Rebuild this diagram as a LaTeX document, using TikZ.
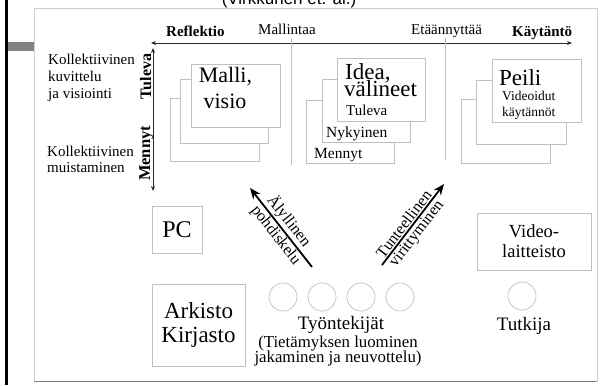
\documentclass[tikz,border=0pt]{standalone}
\usepackage{fontspec}
\setmainfont{Liberation Serif}
\newfontfamily\titlefont{Liberation Sans}
\usetikzlibrary{arrows.meta}
\definecolor{boxgray}{RGB}{192,192,192}
\definecolor{framegray}{RGB}{205,205,205}
\definecolor{bargray}{RGB}{130,130,130}
\definecolor{axisgray}{RGB}{40,40,40}
\newcommand{\fs}[1]{\fontsize{#1}{#1}\selectfont}
\begin{document}
\begin{tikzpicture}[x=1pt,y=-1pt,
  stackbox/.style={draw=boxgray, line width=0.7pt, fill=white, inner sep=0pt, anchor=north west},
  plainbox/.style={draw=boxgray, line width=0.7pt, fill=white, inner sep=0pt, align=center},
  person/.style={draw=boxgray, line width=0.7pt, circle, minimum size=28pt, inner sep=0pt},
  txt/.style={inner sep=0pt, anchor=base west},
  ctxt/.style={inner sep=0pt, anchor=base},
  axis/.style={draw=axisgray, line width=0.8pt, {Stealth[length=5pt,width=4pt]}-{Stealth[length=5pt,width=4pt]}},
  sep/.style={draw=boxgray, line width=0.6pt},
  bigarrow/.style={draw=black, line width=1.8pt, -{Stealth[length=11pt,width=9pt]}},
  arrowlbl/.style={sloped, inner sep=1.2pt, font=\fs{16}}
]
\useasboundingbox (0,0) rectangle (612,385);
\fill[white] (0,0) rectangle (612,385);

% title (cut at top)
\node[ctxt, font=\titlefont\fs{17}] (title) at (289,5) {(Virkkunen et. al.)};

% left decoration
\fill[black] (4.8,0) rectangle (7.6,385);
\fill[bargray] (7.6,42) rectangle (34,51);

% frame
\draw[framegray, line width=0.8pt] (34,381) -- (34,8) -- (597,8) -- (597,381);
\draw[gray, line width=0.8pt] (34,381) -- (597,381);

% axes
\coordinate (axL) at (151,43);
\coordinate (axR) at (572,43);
\coordinate (axT) at (153,48);
\coordinate (axB) at (153,191);
\draw[axis] (axL) -- (axR);
\draw[axis] (axT) -- (axB);

% separators
\coordinate (s1t) at (291,38); \coordinate (s1b) at (291,165);
\coordinate (s2t) at (445,38); \coordinate (s2b) at (445,160);
\draw[sep] (s1t) -- (s1b);
\draw[sep] (s2t) -- (s2b);

% axis labels
\node[txt, font=\bfseries\fs{15}] (reflektio) at (166,37) {Reflektio};
\node[txt, font=\fs{15}] (mallintaa) at (258,35) {Mallintaa};
\node[txt, font=\fs{15}] (etaann) at (411,35) {Etäännyttää};
\node[txt, font=\bfseries\fs{15}] (kaytanto) at (512,37) {Käytäntö};
\node[ctxt, rotate=90, font=\bfseries\fs{16}] (tuleva) at (151,76.5) {Tuleva};
\node[ctxt, rotate=90, font=\bfseries\fs{16.5}] (mennyt) at (150,153.5) {Mennyt};

% left texts
\node[txt, font=\fs{15}] (k1) at (48,65) {Kollektiivinen};
\node[txt, font=\fs{15}] (k2) at (48,82) {kuvittelu};
\node[txt, font=\fs{15}] (k3) at (48,99) {ja visiointi};
\node[txt, font=\fs{15}] (m1) at (47,156) {Kollektiivinen};
\node[txt, font=\fs{15}] (m2) at (47,172) {muistaminen};

% Malli stack
\node[stackbox, minimum width=89pt, minimum height=63pt] (malliC) at (170,98) {};
\node[stackbox, minimum width=88pt, minimum height=64pt] (malliB) at (180,79) {};
\node[stackbox, minimum width=89pt, minimum height=63pt] (malliA) at (191,64) {};
\node[ctxt, font=\fs{22}] (malli1) at (225.5,83) {Malli,};
\node[ctxt, font=\fs{22}] (malli2) at (225,108) {visio};

% Idea stack
\node[stackbox, minimum width=88pt, minimum height=63pt] (ideaC) at (306,100) {};
\node[stackbox, minimum width=88pt, minimum height=63pt] (ideaB) at (322,79) {};
\node[stackbox, minimum width=88pt, minimum height=63pt] (ideaA) at (337,58) {};
\node[txt, font=\fs{23}] (idea1) at (345,80) {Idea,};
\node[txt, font=\fs{23}] (idea2) at (344,97) {välineet};
\node[txt, font=\fs{15}] (idea3) at (346,115) {Tuleva};
\node[txt, font=\fs{15.5}] (idea4) at (326,137) {Nykyinen};
\node[txt, font=\fs{15.5}] (idea5) at (314,158) {Mennyt};

% Peili stack
\node[stackbox, minimum width=89pt, minimum height=64pt] (peiliC) at (461,99) {};
\node[stackbox, minimum width=90pt, minimum height=64pt] (peiliB) at (476,80) {};
\node[stackbox, minimum width=89pt, minimum height=63pt] (peiliA) at (492,59) {};
\node[txt, font=\fs{23}] (peili1) at (499,85) {Peili};
\node[txt, font=\fs{13.5}] (peili2) at (502,101) {Videoidut};
\node[txt, font=\fs{13.5}] (peili3) at (502,117) {käytännöt};

% bottom boxes
\node[plainbox, minimum width=50pt, minimum height=47pt, font=\fs{24}] (pc) at (177,229.5) {PC};
\node[plainbox, minimum width=93pt, minimum height=82pt, font=\fontsize{23}{24}\selectfont] (arkisto) at (198.5,325) {Arkisto\\Kirjasto};
\node[plainbox, minimum width=114pt, minimum height=57pt, font=\fontsize{18.5}{20}\selectfont] (video) at (534,241.5) {Video-\\laitteisto};

% persons
\node[person] (w1) at (283,297) {};
\node[person] (w2) at (322,297) {};
\node[person] (w3) at (361,297) {};
\node[person] (w4) at (400,297) {};
\node[person] (tut) at (522,296) {};
\node[ctxt, font=\fs{19}] (tyont) at (341,329) {Työntekijät};
\node[ctxt, font=\fs{16.8}] (tiet1) at (338,347) {(Tietämyksen luominen};
\node[ctxt, font=\fs{16.8}] (tiet2) at (338,362) {jakaminen ja neuvottelu)};
\node[ctxt, font=\fs{19}] (tutkija) at (524,330) {Tutkija};

% diagonal arrows
\coordinate (ltail) at (312,267);
\coordinate (ltip) at (250,188);
\coordinate (rtail) at (382,265);
\coordinate (rtip) at (444,184);
\draw[bigarrow] (ltail) -- (ltip)
  node[arrowlbl, pos=0.5, above] (alyl) {Älyllinen}
  node[arrowlbl, pos=0.47, below] (pohd) {pohdiskelu};
\draw[bigarrow] (rtail) -- (rtip)
  node[arrowlbl, pos=0.45, above] (tunt) {Tunteellinen}
  node[arrowlbl, pos=0.45, below] (viri) {virittyminen};
\end{tikzpicture}
\end{document}
